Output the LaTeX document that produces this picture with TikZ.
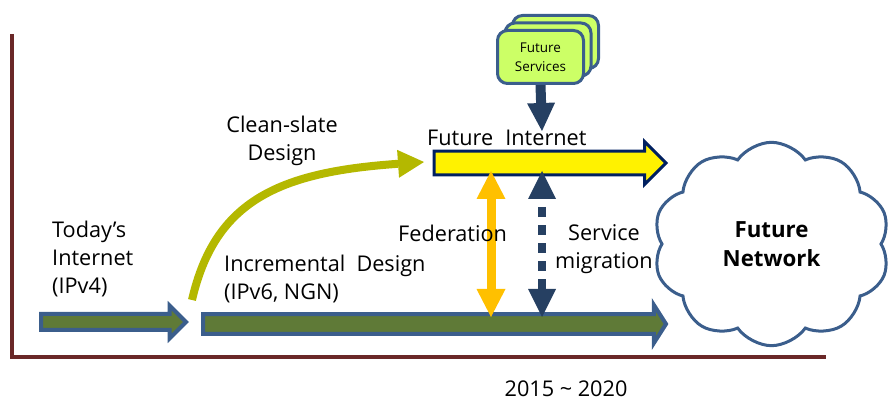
\documentclass[tikz,border=0pt]{standalone}
\usepackage{fontspec}
\setmainfont{Open Sans}
\usepackage{tikz}
\usetikzlibrary{arrows.meta,shapes,shadows}
\definecolor{axisred}{RGB}{106,40,40}
\definecolor{blockblue}{RGB}{59,94,140}
\definecolor{oldgreen}{RGB}{95,122,55}
\definecolor{finavy}{RGB}{0,32,96}
\definecolor{cleanolive}{RGB}{180,184,0}
\definecolor{svcdark}{RGB}{38,64,98}
\definecolor{fedorange}{RGB}{255,192,0}
\definecolor{svclime}{RGB}{204,255,102}
\tikzset{
  lbl/.style={font=\fontsize{18.5}{24}\selectfont,inner sep=0pt},
  blockarr/.style={single arrow,anchor=tail,inner xsep=0pt,text height=0pt,text depth=0pt},
  oldarr/.style={blockarr,draw=blockblue,fill=oldgreen,line width=0.12cm},
  fiarr/.style={blockarr,draw=finavy,fill=yellow,line width=0.09cm},
  svcbox/.style={draw=blockblue,fill=svclime,line width=0.09cm,rounded corners=0.3cm,
    minimum width=2.58cm,minimum height=1.59cm,align=center,font=\fontsize{11.5}{16}\selectfont},
  svcarr/.style={draw=svcdark,line width=0.3cm,-{Triangle[length=0.84cm,width=0.84cm,line width=0pt]}},
  fedarr/.style={draw=fedorange,line width=0.27cm,
    {Triangle[length=0.84cm,width=0.87cm,line width=0pt]}-{Triangle[length=0.84cm,width=0.87cm,line width=0pt]}},
  migarr/.style={draw=svcdark,line width=0.26cm,dash pattern=on 0.3cm off 0.24cm,dash phase=0.3cm,
    {Triangle[length=0.84cm,width=0.84cm,line width=0pt]}-{Triangle[length=0.84cm,width=0.84cm,line width=0pt]}},
  cleanarr/.style={draw=cleanolive,line width=0.24cm,-{Triangle[length=0.78cm,width=0.84cm,line width=0pt]}}
}
\begin{document}
\begin{tikzpicture}[x=0.03cm,y=-0.03cm]
\useasboundingbox (0,0) rectangle (890,403);
\coordinate (ax-top) at (12,34);
\coordinate (ax-org) at (12,357);
\coordinate (ax-end) at (826,357);
\draw[axisred,line width=0.12cm] (ax-top) -- (ax-org) -- (ax-end);

\node[oldarr,minimum height=4.35cm,minimum width=0.93cm,inner ysep=0.18cm] (today) at (39,322) {};
\node[oldarr,minimum height=13.89cm,minimum width=1.14cm,inner ysep=0.21cm,single arrow tip angle=115] (incr) at (201,324) {};
\node[fiarr,minimum height=6.96cm,minimum width=1.29cm,inner ysep=0.27cm] (fi) at (432.5,163) {};

\node[svcbox,double copy shadow={shadow xshift=0.225cm,shadow yshift=0.225cm}] (svc) at (540.5,57) {Future\\Services};
\node[cloud,draw=blockblue,line width=0.09cm,cloud puffs=10,cloud puff arc=110,aspect=1.17,
  minimum width=7.1cm,minimum height=6.1cm,align=center,font=\fontsize{19}{25}\selectfont\bfseries] (net) at (771.5,244) {Future\\Network};

\coordinate (svc-end) at (542,131);
\coordinate (fed-top) at (491,171);
\coordinate (fed-bot) at (491,317);
\coordinate (mig-top) at (542,171);
\coordinate (mig-bot) at (542,317);
\coordinate (cs-start) at (192,300);
\coordinate (cs-end) at (424,162);

\path
(svc.south) edge[svcarr] (svc-end)
(fed-top) edge[fedarr] (fed-bot)
(mig-top) edge[migarr] (mig-bot);
\draw[cleanarr] (cs-start) .. controls (215,200) and (280,172) .. (cs-end);

\node[lbl,anchor=west,align=left] (l-today) at (52,259) {Today’s\\Internet\\(IPv4)};
\node[lbl,align=center] (l-clean) at (282,141) {Clean-slate\\Design};
\node[lbl,anchor=base west] (l-fi) at (427,146) {Future\hspace{0.3em} Internet};
\node[lbl,anchor=west,align=left] (l-incr) at (224,279) {Incremental\ \ Design\\(IPv6, NGN)};
\node[lbl,anchor=base west] (l-fed) at (398,242) {Federation};
\node[lbl,align=center] (l-mig) at (604,249) {Service\\migration};
\node[lbl,anchor=base] (l-year) at (566,397) {2015 \textasciitilde{} 2020};
\end{tikzpicture}
\end{document}
